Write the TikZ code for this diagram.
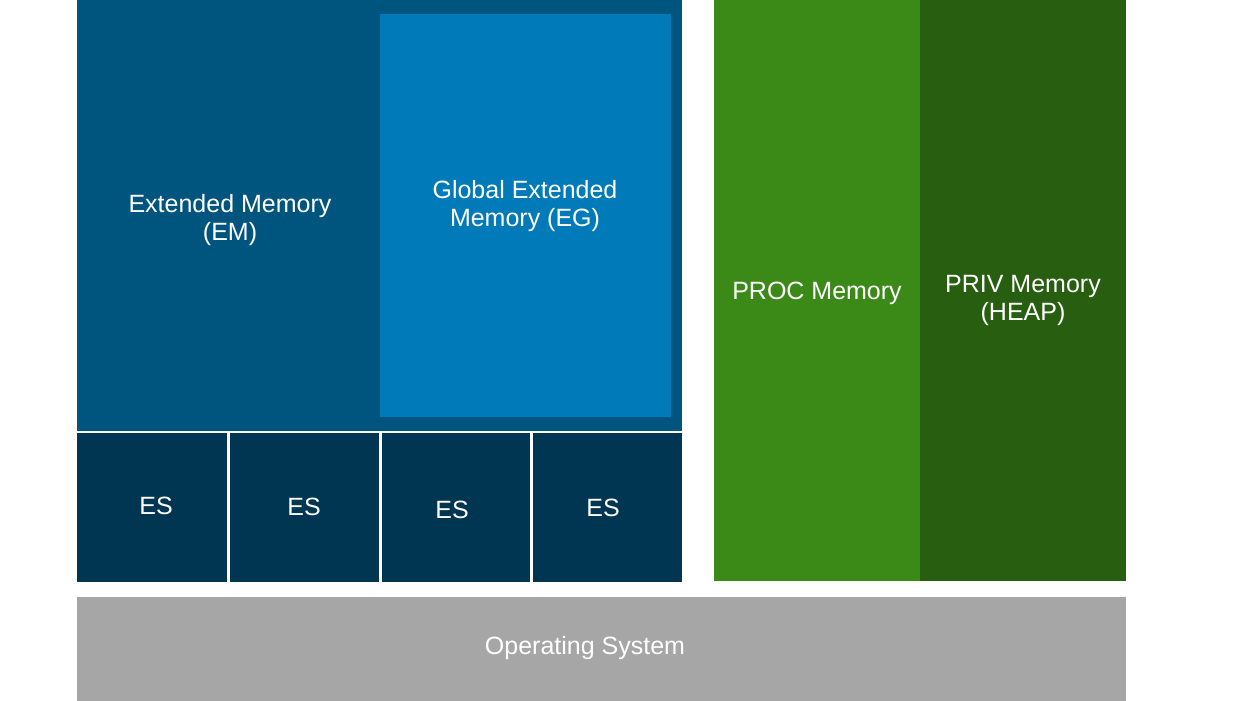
\documentclass[tikz,border=0pt]{standalone}
\usepackage{fontspec}
\setmainfont{Liberation Sans}
\definecolor{emblue}{RGB}{0,85,127}
\definecolor{egblue}{RGB}{0,122,184}
\definecolor{esblue}{RGB}{0,54,82}
\definecolor{procgreen}{RGB}{59,138,23}
\definecolor{privgreen}{RGB}{39,94,16}
\definecolor{osgray}{RGB}{166,166,166}
\tikzset{
  lbl/.style={text=white, align=center, font=\fontsize{25}{28}\selectfont, inner sep=0pt},
  blk/.style={inner sep=0pt, outer sep=0pt}
}
\begin{document}
\begin{tikzpicture}[x=1pt,y=-1pt]
\useasboundingbox (0,0) rectangle (1239,701);
% extended memory area
\fill[emblue] (77,0) rectangle (682,431);
\fill[egblue] (380,14) rectangle (671,417);
% ES blocks
\fill[esblue] (77,433) rectangle (227,582);
\fill[esblue] (230,433) rectangle (379,582);
\fill[esblue] (382,433) rectangle (530,582);
\fill[esblue] (533,433) rectangle (682,582);
% green blocks
\fill[procgreen] (714,0) rectangle (920,581);
\fill[privgreen] (920,0) rectangle (1126,581);
% OS
\fill[osgray] (77,597) rectangle (1126,701);
% labels
\node[lbl] (em) at (230,220) {Extended Memory\\(EM)};
\node[lbl] (eg) at (525,206) {Global Extended\\Memory (EG)};
\node[lbl] (es1) at (156,506) {ES};
\node[lbl] (es2) at (304,507) {ES};
\node[lbl] (es3) at (452,510) {ES};
\node[lbl] (es4) at (603,508) {ES};
\node[lbl] (proc) at (817,293) {PROC Memory};
\node[lbl] (priv) at (1023,300) {PRIV Memory\\(HEAP)};
\node[lbl] (os) at (585,648) {Operating System};
\end{tikzpicture}
\end{document}
